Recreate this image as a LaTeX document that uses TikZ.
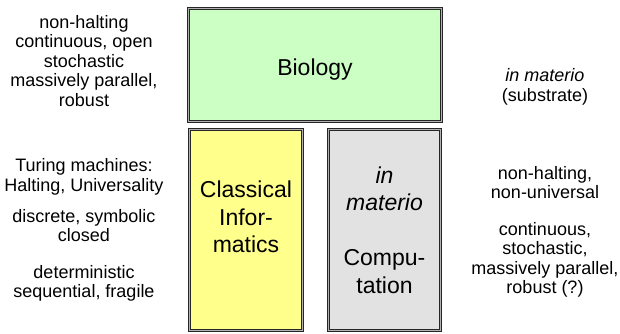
\documentclass[tikz,border=0pt]{standalone}
\usepackage{fontspec}
\setmainfont{Liberation Sans}
\begin{document}
\begin{tikzpicture}[x=1pt,y=-1pt,
  framebox/.style={draw=black!85,line width=1.2pt,double=black!30,double distance=1pt,
    inner sep=0pt,outer sep=0pt},
  sidetext/.style={align=center,anchor=base,inner sep=0pt,
    font=\fontsize{18}{19.5}\selectfont},
  boxtext/.style={align=center,anchor=base,inner sep=0pt,
    font=\fontsize{23}{27.5}\selectfont}]
\useasboundingbox (0,0) rectangle (620,333);
% the three framed boxes
\node[framebox,fill={rgb,255:red,204;green,255;blue,196},
  minimum width=252.6pt,minimum height=112.6pt] (bio) at (315,65) {};
\node[framebox,fill={rgb,255:red,255;green,255;blue,140},
  minimum width=112.6pt,minimum height=200.6pt] (classic) at (246,230) {};
\node[framebox,fill={rgb,255:red,226;green,226;blue,226},
  minimum width=111.6pt,minimum height=200.6pt] (matter) at (384.5,230) {};
% box labels (anchored at the baseline of the last line)
\node[boxtext] (biolbl) at (315,75) {Biology};
\node[boxtext] (classlbl) at (246,252.5) {Classical\\Infor-\\matics};
\node[boxtext] (matterlbl) at (384.5,293) {\textit{in}\\\textit{materio}\\[27.5pt]Compu-\\tation};
% left column
\node[sidetext] (biolist) at (84,106) {non-halting\\continuous, open\\stochastic\\massively parallel,\\robust};
\node[sidetext] (turing) at (84,191) {Turing machines:\\Halting, Universality};
\node[sidetext] (discrete) at (84,241.5) {discrete, symbolic\\closed};
\node[sidetext] (determ) at (84,297.5) {deterministic\\sequential, fragile};
% right column
\node[sidetext] (substrate) at (545,101) {\textit{in materio}\\(substrate)};
\node[sidetext] (nonhalt) at (545,198.5) {non-halting,\\non-universal};
\node[sidetext] (contin) at (545,293.5) {continuous,\\stochastic,\\massively parallel,\\robust (?)};
\end{tikzpicture}
\end{document}
